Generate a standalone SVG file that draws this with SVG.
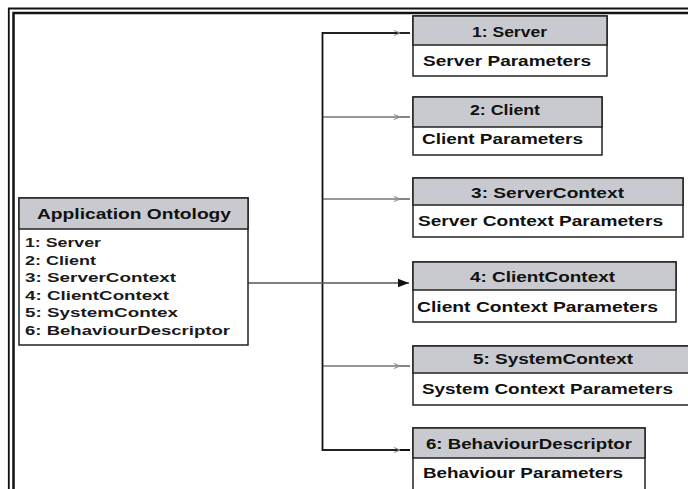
<svg xmlns="http://www.w3.org/2000/svg" width="688" height="489" viewBox="0 0 688 489">
  <style>
    .box { fill: #ffffff; stroke: #222222; stroke-width: 1.5; }
    .head { fill: #c9cacf; stroke: #222222; stroke-width: 1.5; }
    .t { font-family: "Liberation Sans", Arial, sans-serif; font-weight: bold; font-size: 14px; fill: #111111; }
    .c { text-anchor: middle; }
    .item { font-family: "Liberation Sans", Arial, sans-serif; font-weight: bold; font-size: 13.5px; fill: #1a1a1a; }
    .trunk { fill: none; stroke: #111111; stroke-width: 1.8; }
    .branch { fill: none; stroke: #333333; stroke-width: 1.2; }
    .frame { fill: none; stroke: #111111; }
  </style>
  <defs>
    <marker id="tick" markerWidth="8" markerHeight="8" refX="7" refY="4" orient="auto" markerUnits="userSpaceOnUse">
      <path d="M1,1.5 L7,4 L1,6.5" fill="none" stroke="#888888" stroke-width="1"/>
    </marker>
    <marker id="solid" markerWidth="12" markerHeight="10" refX="11" refY="5" orient="auto" markerUnits="userSpaceOnUse">
      <path d="M0,0.8 L11,5 L0,9.2 Z" fill="#111111"/>
    </marker>
  </defs>

  <rect width="688" height="489" fill="#ffffff"/>

  <!-- double border -->
  <path class="frame" d="M8.8,489 V8.5 H688" stroke-width="1.8"/>
  <path class="frame" d="M13.5,489 V13 H688" stroke-width="2.5"/>

  <!-- connectors -->
  <g id="connectors">
    <path class="trunk" d="M410,33 H322.5 V450 H410"/>
    <line class="branch" x1="322.5" y1="33" x2="400" y2="33" marker-end="url(#tick)"/>
    <line class="branch" x1="322.5" y1="117" x2="400" y2="117" marker-end="url(#tick)"/>
    <line class="branch" x1="322.5" y1="199" x2="400" y2="199" marker-end="url(#tick)"/>
    <line class="branch" x1="322.5" y1="366" x2="400" y2="366" marker-end="url(#tick)"/>
    <line class="branch" x1="322.5" y1="450" x2="400" y2="450" marker-end="url(#tick)"/>
    <line class="branch" x1="400" y1="33" x2="410" y2="33"/>
    <line class="branch" x1="400" y1="117" x2="410" y2="117"/>
    <line class="branch" x1="400" y1="199" x2="410" y2="199"/>
    <line class="branch" x1="400" y1="366" x2="410" y2="366"/>
    <line x1="248" y1="283" x2="409" y2="283" stroke="#555555" stroke-width="1.6" marker-end="url(#solid)"/>
  </g>

  <!-- source class -->
  <g id="application-ontology">
    <rect class="box" x="19" y="198" width="229" height="147"/>
    <rect class="head" x="19" y="198" width="229" height="31"/>
    <text class="t c" x="134" y="218.5" font-size="14.5" textLength="194" lengthAdjust="spacingAndGlyphs">Application Ontology</text>
    <text class="item" x="25" y="247" textLength="76" lengthAdjust="spacingAndGlyphs">1: Server</text>
    <text class="item" x="25" y="264.5" textLength="71" lengthAdjust="spacingAndGlyphs">2: Client</text>
    <text class="item" x="25" y="282" textLength="151" lengthAdjust="spacingAndGlyphs">3: ServerContext</text>
    <text class="item" x="25" y="299.5" textLength="144" lengthAdjust="spacingAndGlyphs">4: ClientContext</text>
    <text class="item" x="25" y="317" textLength="153" lengthAdjust="spacingAndGlyphs">5: SystemContex</text>
    <text class="item" x="25" y="334.5" textLength="205" lengthAdjust="spacingAndGlyphs">6: BehaviourDescriptor</text>
  </g>

  <g id="server">
    <rect class="box" x="413" y="16" width="194" height="60"/>
    <rect class="head" x="413" y="16" width="194" height="29"/>
    <text class="t c" x="509.5" y="36.5" textLength="75" lengthAdjust="spacingAndGlyphs">1: Server</text>
    <text class="t" x="423" y="66" textLength="168" lengthAdjust="spacingAndGlyphs">Server Parameters</text>
  </g>

  <g id="client">
    <rect class="box" x="413" y="97" width="189" height="58"/>
    <rect class="head" x="413" y="97" width="189" height="30"/>
    <text class="t c" x="505" y="115" textLength="70" lengthAdjust="spacingAndGlyphs">2: Client</text>
    <text class="t" x="422" y="144" textLength="161" lengthAdjust="spacingAndGlyphs">Client Parameters</text>
  </g>

  <g id="server-context">
    <rect class="box" x="413" y="178" width="270" height="59"/>
    <rect class="head" x="413" y="178" width="270" height="27"/>
    <text class="t c" x="547.5" y="198" textLength="153" lengthAdjust="spacingAndGlyphs">3: ServerContext</text>
    <text class="t" x="418" y="226" textLength="245" lengthAdjust="spacingAndGlyphs">Server Context Parameters</text>
  </g>

  <g id="client-context">
    <rect class="box" x="413" y="262" width="263" height="60"/>
    <rect class="head" x="413" y="262" width="263" height="28"/>
    <text class="t c" x="542.5" y="282" textLength="145" lengthAdjust="spacingAndGlyphs">4: ClientContext</text>
    <text class="t" x="417" y="312" textLength="241" lengthAdjust="spacingAndGlyphs">Client Context Parameters</text>
  </g>

  <g id="system-context">
    <rect class="box" x="413" y="346" width="281" height="59"/>
    <rect class="head" x="413" y="346" width="281" height="27"/>
    <text class="t c" x="553" y="364" textLength="160" lengthAdjust="spacingAndGlyphs">5: SystemContext</text>
    <text class="t" x="422" y="394" textLength="251" lengthAdjust="spacingAndGlyphs">System Context Parameters</text>
  </g>

  <g id="behaviour-descriptor">
    <rect class="box" x="413" y="428" width="232" height="64"/>
    <rect class="head" x="413" y="428" width="232" height="30"/>
    <text class="t c" x="529" y="449" textLength="206" lengthAdjust="spacingAndGlyphs">6: BehaviourDescriptor</text>
    <text class="t" x="423" y="478" textLength="200" lengthAdjust="spacingAndGlyphs">Behaviour Parameters</text>
  </g>
</svg>
